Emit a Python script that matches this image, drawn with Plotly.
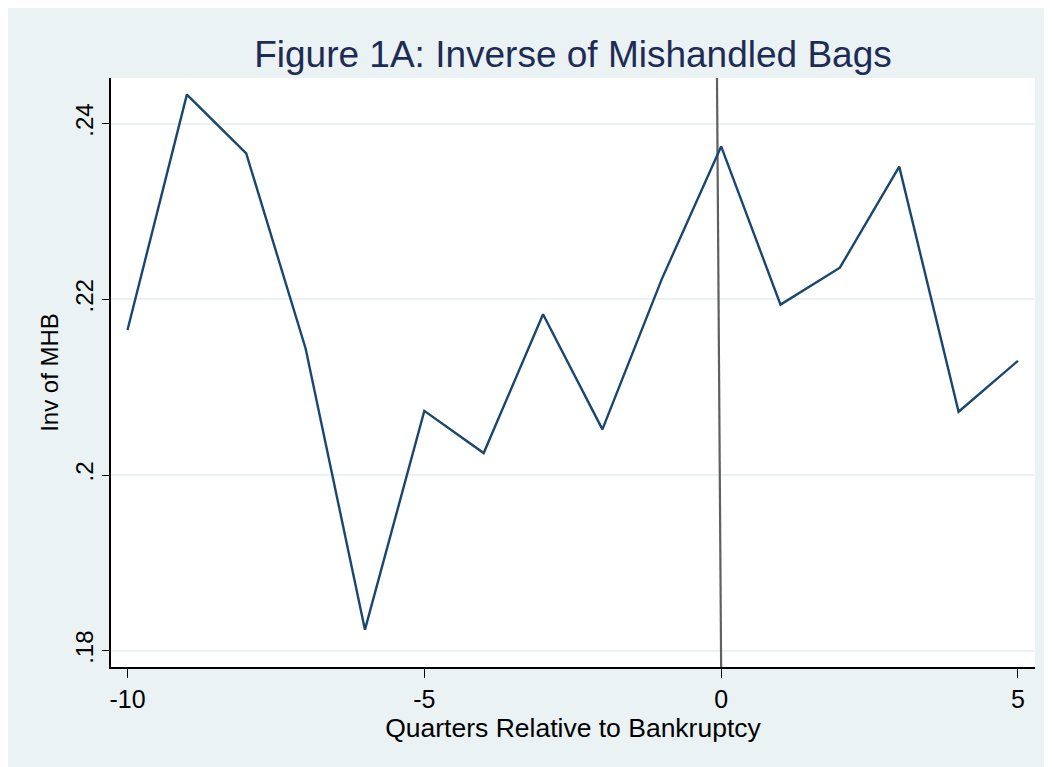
import plotly.graph_objects as go

quarters = [-10, -9, -8, -7, -6, -5, -4, -3, -2, -1, 0, 1, 2, 3, 4, 5]
inv_mhb = [0.2165, 0.2433, 0.2366, 0.2144, 0.1824, 0.2073, 0.2025, 0.2183,
           0.2052, 0.2223, 0.2374, 0.2194, 0.2236, 0.2351, 0.2072, 0.2130]

x_ticks = [-10, -5, 0, 5]
x_tick_labels = ["-10", "-5", "0", "5"]
y_ticks = [0.18, 0.20, 0.22, 0.24]
y_tick_labels = [".18", ".2", ".22", ".24"]

vline_x = [0.0, -0.07]
vline_y = [0.17815, 0.24519]

NAVY = "#1a476f"
TITLE_COL = "#1e2c55"
BG = "#eaf2f3"
FONT = "Liberation Sans, Arial, sans-serif"

fig = go.Figure()
fig.add_trace(go.Scatter(x=vline_x, y=vline_y, mode="lines",
                         line=dict(color="#606060", width=2.2),
                         showlegend=False, hoverinfo="skip"))
fig.add_trace(go.Scatter(x=quarters, y=inv_mhb, mode="lines",
                         line=dict(color=NAVY, width=2.4),
                         showlegend=False))

W, H = 1044, 759
fig.update_layout(
    width=W, height=H,
    margin=dict(l=103, r=17, t=70, b=100),
    paper_bgcolor=BG, plot_bgcolor="white",
    title=dict(text="Figure 1A: Inverse of Mishandled Bags",
               x=0.5, xref="paper", xanchor="center",
               y=1 - 46 / H, yref="container", yanchor="middle",
               font=dict(family=FONT, size=37, color=TITLE_COL)),
    font=dict(family=FONT, color="black"),
)
fig.update_xaxes(range=[-10.278, 5.287], tickvals=x_ticks, ticktext=x_tick_labels,
                 showgrid=False, zeroline=False, showline=True, linecolor="black",
                 linewidth=1.5, ticks="outside", ticklen=9, tickcolor="black",
                 tickfont=dict(size=25),
                 title=dict(text="Quarters Relative to Bankruptcy",
                            font=dict(size=26.5), standoff=2))
fig.update_yaxes(range=[0.17815, 0.24519], tickvals=y_ticks, ticktext=y_tick_labels,
                 showgrid=True, gridcolor=BG, gridwidth=1.5, zeroline=False,
                 showline=True, linecolor="black", linewidth=1.5,
                 ticks="outside", ticklen=7, tickcolor="black", tickangle=-90,
                 tickfont=dict(size=24),
                 title=dict(text="Inv of MHB", font=dict(size=24), standoff=5))

fig.write_html("out.html")
